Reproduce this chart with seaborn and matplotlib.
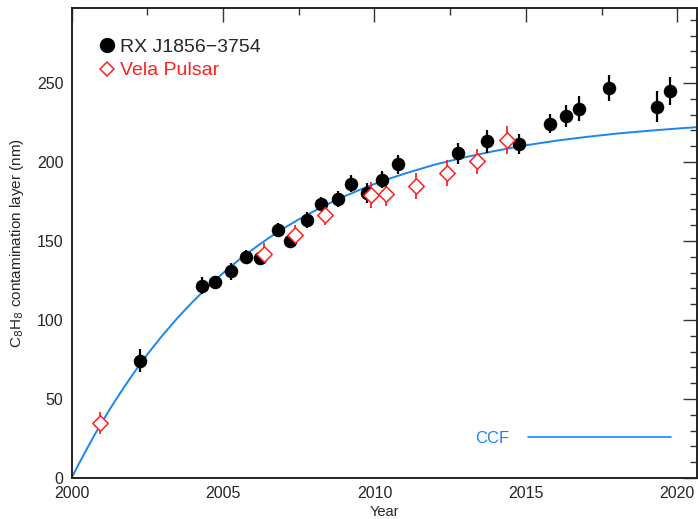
import numpy as np
import pandas as pd
import matplotlib
matplotlib.use("Agg")
import matplotlib.pyplot as plt
from matplotlib.lines import Line2D
import seaborn as sns

# ---- data ----
rx_year = [2002.26, 2004.31, 2004.74, 2005.25, 2005.76, 2006.23, 2006.82, 2007.21,
           2007.77, 2008.23, 2008.78, 2009.23, 2009.76, 2010.24, 2010.77, 2012.75,
           2013.73, 2014.76, 2015.79, 2016.33, 2016.76, 2017.75, 2019.33, 2019.76]
rx_val = [74.2, 121.8, 124.0, 130.8, 139.7, 139.0, 157.2, 150.0,
          163.3, 173.4, 176.6, 186.3, 180.4, 188.8, 198.7, 205.4,
          213.0, 211.6, 224.2, 228.9, 233.7, 246.8, 235.0, 244.9]
rx_err = [7.2, 5.3, 4.1, 5.5, 4.5, 3.5, 4.2, 3.4,
          5.3, 4.3, 5.0, 5.4, 6.5, 5.3, 6.0, 6.5,
          7.2, 6.3, 6.0, 6.9, 7.9, 8.4, 9.7, 8.8]

vela_year = [2000.93, 2006.34, 2007.36, 2008.36, 2009.87, 2010.37, 2011.36,
             2012.40, 2013.37, 2014.38]
vela_val = [34.8, 142.1, 153.6, 166.4, 179.1, 179.5, 185.0, 193.2, 200.4, 214.1]
vela_err = [6.9, 6.9, 6.5, 6.3, 8.1, 7.4, 8.2, 8.2, 7.9, 8.9]

ccf_year = [2000.0, 2000.25, 2000.5, 2000.75, 2001.0, 2001.25, 2001.5, 2001.75,
            2002.0, 2002.25, 2002.5, 2002.75, 2003.0, 2003.5, 2004.0, 2004.5,
            2005.0, 2005.5, 2006.0, 2006.5, 2007.0, 2007.5, 2008.0, 2008.5,
            2009.0, 2009.5, 2010.0, 2010.5, 2011.0, 2012.0, 2013.0, 2014.0,
            2015.0, 2016.0, 2017.0, 2018.0, 2019.0, 2020.0, 2020.65]
ccf_val = [0.0, 9.4, 18.3, 27.0, 35.2, 43.2, 50.7, 58.0,
           65.0, 71.7, 78.2, 84.3, 90.3, 101.4, 111.6, 121.0,
           129.7, 137.7, 145.0, 151.8, 158.0, 163.7, 168.9, 173.8,
           178.2, 182.3, 186.1, 189.5, 192.7, 198.4, 203.1, 207.1,
           210.6, 213.5, 215.9, 218.0, 219.7, 221.2, 222.1]

labels = ["RX J1856\u22123754", "Vela Pulsar", "CCF"]
x_ticks = [2000, 2005, 2010, 2015, 2020]
y_ticks = [0, 50, 100, 150, 200, 250]

# ---- figure ----
sns.set_style("white")
plt.rcParams['font.family'] = ['Liberation Sans', 'DejaVu Sans']

fig = plt.figure(figsize=(6.98, 5.19), dpi=100)
ax = fig.add_axes([0.1026, 0.079, 0.8960, 0.9056])

rx = pd.DataFrame({"year": rx_year, "val": rx_val})
vela = pd.DataFrame({"year": vela_year, "val": vela_val})
ccf = pd.DataFrame({"year": ccf_year, "val": ccf_val})

blue = "#1a86ee"
red = "#ff2020"
sns.lineplot(data=ccf, x="year", y="val", ax=ax, color=blue, lw=1.4, zorder=2)

ax.errorbar(rx_year, rx_val, yerr=rx_err, fmt="none", ecolor="black",
            elinewidth=1.6, capsize=0, zorder=3)
ax.errorbar(vela_year, vela_val, yerr=vela_err, fmt="none", ecolor=red,
            elinewidth=1.3, capsize=0, zorder=3)
sns.scatterplot(data=rx, x="year", y="val", ax=ax, color="black", marker="o",
                s=95, edgecolor="black", linewidth=0, zorder=4)
sns.scatterplot(data=vela, x="year", y="val", ax=ax, marker="D",
                s=62, facecolor="white", edgecolor=red, linewidth=1.1, zorder=5)

ax.set_xlim(2000, 2020.65)
ax.set_ylim(0, 297.5)
ax.set_xticks(x_ticks)
ax.set_xticklabels([str(t) for t in x_ticks])
ax.set_yticks(y_ticks)
ax.set_yticklabels([str(t) for t in y_ticks])
ax.set_xticks(np.arange(2000, 2021, 2.5), minor=True)
ax.set_yticks(np.arange(0, 300, 10), minor=True)
ax.tick_params(which="major", direction="in", length=10, width=1.0, color="#333333",
               top=True, right=True, labelsize=11.5, pad=6)
ax.tick_params(which="minor", direction="in", length=5, width=1.0, color="#333333",
               top=True, right=True)
for sp in ax.spines.values():
    sp.set_color("#222222")
    sp.set_linewidth(1.4)

ax.set_xlabel("Year", fontsize=10.5, labelpad=3)
ax.set_ylabel("C$_8$H$_8$ contamination layer (nm)", fontsize=11, labelpad=8)

h1 = Line2D([], [], marker="o", color="black", ls="none", markersize=10)
h2 = Line2D([], [], marker="D", markerfacecolor="white", markeredgecolor=red,
            markeredgewidth=1.1, ls="none", markersize=7)
leg1 = ax.legend([h1, h2], labels[:2], loc="upper left", bbox_to_anchor=(0.028, 0.952),
                 frameon=False, fontsize=14, handletextpad=0.2, labelspacing=0.3,
                 handlelength=1.0, borderaxespad=0)
leg1.get_texts()[1].set_color(red)
ax.add_artist(leg1)

h3 = Line2D([], [], color=blue, lw=1.2)
leg2 = ax.legend([h3], [labels[2]], loc="center left", bbox_to_anchor=(0.6345, 0.085),
                 frameon=False, fontsize=12, markerfirst=False, handlelength=8.6,
                 handletextpad=1.1, borderaxespad=0)
leg2.get_texts()[0].set_color(blue)

fig.savefig("out.png", dpi=100)
